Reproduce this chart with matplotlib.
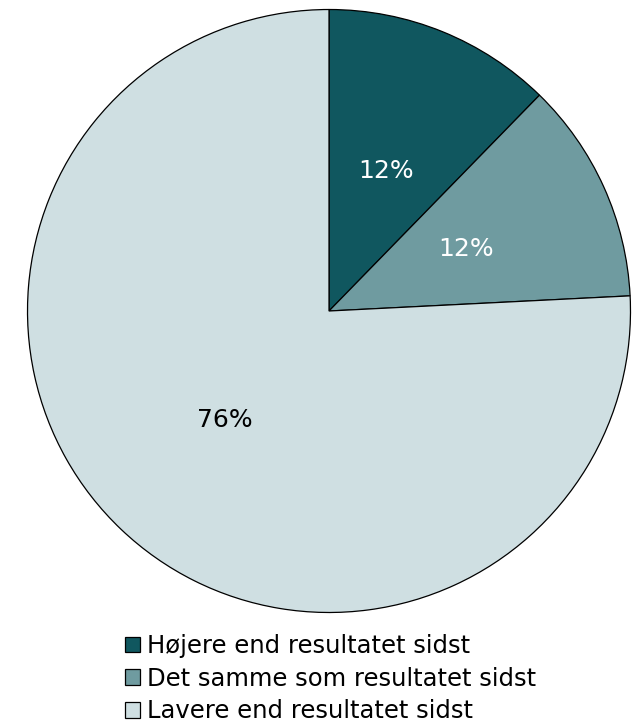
import matplotlib

matplotlib.use("Agg")

import matplotlib.pyplot as plt
from matplotlib.patches import Patch

# andele
kategorier = [
    "Højere end resultatet sidst",
    "Det samme som resultatet sidst",
    "Lavere end resultatet sidst",
]
andele = [12.3, 11.9, 75.8]
farver = ["#10575f", "#6f9ba0", "#cfdfe2"]
tekstfarver = ["white", "white", "black"]

fig = plt.figure(figsize=(6.33, 7.28), dpi=100)
ax = fig.add_axes([26 / 633, 1 - 614 / 728, 606 / 633, 606 / 728])

wedges, _, autotexts = ax.pie(
    andele,
    colors=farver,
    startangle=90,
    counterclock=False,
    autopct="%.0f%%",
    pctdistance=0.5,
    radius=1,
    wedgeprops=dict(edgecolor="black", linewidth=0.9),
    textprops=dict(fontsize=18),
)
for tekst, farve in zip(autotexts, tekstfarver):
    tekst.set_color(farve)

ax.set_xlim(-1.005, 1.005)
ax.set_ylim(-1.005, 1.005)
ax.set_aspect("equal")
ax.axis("off")

handles = [Patch(facecolor=f, edgecolor="black", linewidth=0.9) for f in farver]
fig.legend(
    handles,
    kategorier,
    loc="upper left",
    bbox_to_anchor=(125 / 633, 1 - 634 / 728),
    frameon=False,
    fontsize=17.5,
    handlelength=0.62,
    handleheight=0.62,
    handletextpad=0.3,
    labelspacing=0.36,
    borderpad=0,
    borderaxespad=0,
)

fig.savefig("out.png", dpi=100)
plt.close(fig)
